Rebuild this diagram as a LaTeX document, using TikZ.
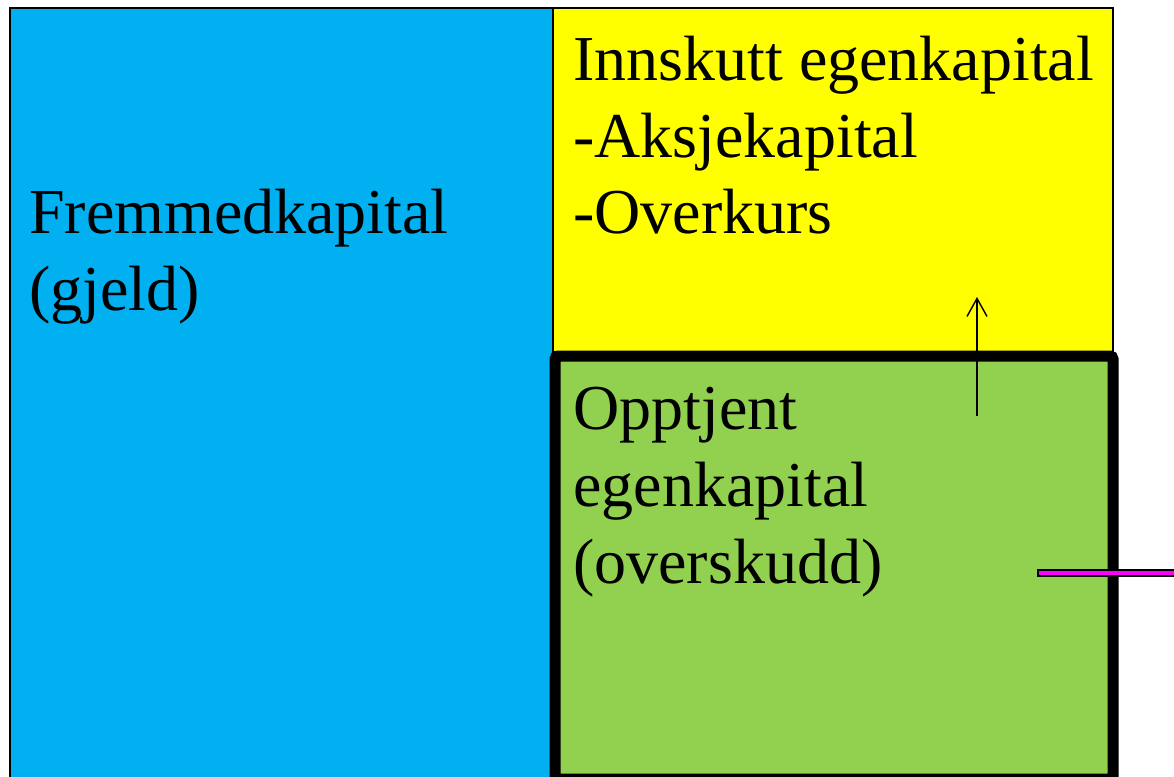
\documentclass[tikz,border=0pt]{standalone}
\usepackage{fontspec}
\setmainfont{Liberation Serif}
\usetikzlibrary{arrows.meta}
\definecolor{cblue}{HTML}{00B0F0}
\definecolor{cyellow}{HTML}{FFFF00}
\definecolor{cgreen}{HTML}{92D050}
\definecolor{cmag}{HTML}{FF00FF}
\tikzset{
  lbl/.style={anchor=base west, inner sep=0pt, font=\fontsize{64}{77}\selectfont},
  thinbox/.style={draw=black, line width=1.2pt},
}
\begin{document}
\begin{tikzpicture}[x=1pt,y=-1pt]
\useasboundingbox (0,0) rectangle (1174,776);
\clip (0,0) rectangle (1174,776);
% blue box
\path[fill=cblue, thinbox] (10,8) rectangle (553,790);
% yellow box
\path[fill=cyellow, thinbox] (553,8) rectangle (1113,352);
% green box
\path[fill=cgreen, draw=black, line width=11pt, rounded corners=3pt] (555,356) rectangle (1113,779);
% texts
\node[lbl] (fremmed) at (29,233) {Fremmedkapital};
\node[lbl] (gjeld) at (29,310) {(gjeld)};
\node[lbl] (innskutt) at (573,80) {Innskutt egenkapital};
\node[lbl] (aksje) at (573,157) {-Aksjekapital};
\node[lbl] (overkurs) at (573,233) {-Overkurs};
\node[lbl] (opptjent) at (573,429) {Opptjent};
\node[lbl] (egen) at (573,506) {egenkapital};
\node[lbl] (overskudd) at (573,583) {(overskudd)};
% arrow
\coordinate (arrS) at (977,416);
\coordinate (arrE) at (977,297);
\draw[line width=1.4pt, -{Straight Barb[length=18pt,width=20pt,line width=1.4pt]}] (arrS) -- (arrE);
% magenta line
\coordinate (magS) at (1037,573);
\coordinate (magE) at (1180,573);
\draw[black, line width=8pt] (magS) -- (magE);
\draw[cmag, line width=4pt] ([xshift=2pt]magS) -- (magE);
\end{tikzpicture}
\end{document}
